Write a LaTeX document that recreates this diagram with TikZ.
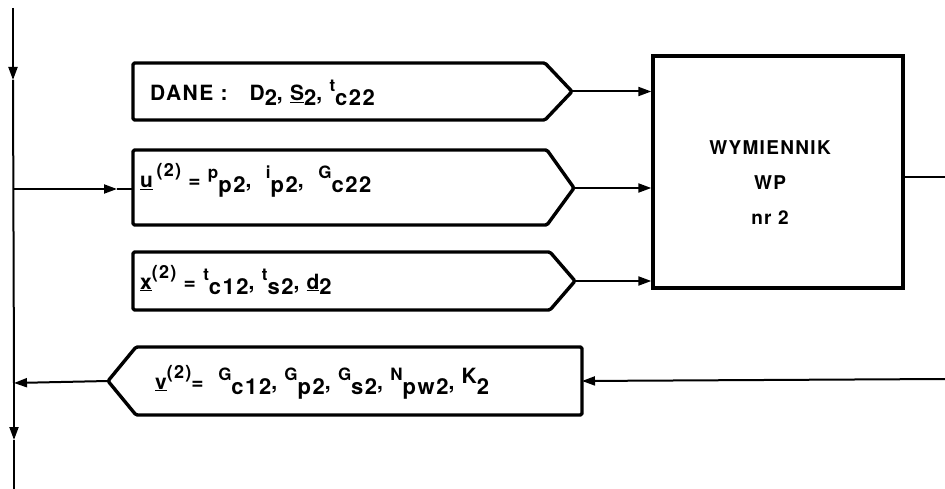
\documentclass[tikz,border=0pt]{standalone}
\usepackage{fontspec}
\setmainfont[LetterSpace=7]{TeX Gyre Heros}
\usetikzlibrary{arrows.meta}
\newcommand{\mySub}[1]{\raisebox{-5pt}{\fontsize{22}{22}\selectfont #1}}
\newcommand{\mySup}[1]{\raisebox{11pt}{\fontsize{18}{18}\selectfont #1}}
\newcommand{\myIx}[2]{\raisebox{9pt}{\fontsize{17}{17}\selectfont #1}\mySub{#2}}
\tikzset{
  box/.style={line width=3.4pt, line join=round, rounded corners=1.5pt},
  conn/.style={line width=2pt},
  tip/.style={-{Triangle[length=13pt,width=9pt]}},
  lbl/.style={anchor=base west, inner sep=0pt, font=\fontsize{21}{24}\selectfont\bfseries},
  blk/.style={draw, line width=3.4pt, minimum width=250pt, minimum height=232pt, inner sep=0pt}
}
\begin{document}
\begin{tikzpicture}[x=1pt,y=-1pt]
\useasboundingbox (0,0) rectangle (945,489);
% left bus
\coordinate (top) at (13,8);
\coordinate (a1) at (13,80);
\coordinate (j1) at (13,189);
\coordinate (j2) at (14,383);
\coordinate (a2) at (14,440);
\coordinate (bot) at (14,489);
\coordinate (m1) at (117,189);
% boxes
\draw[box] (133,63) -- (545,63) -- (572,91.5) -- (545,120) -- (133,120) -- cycle;
\coordinate (dtip) at (572,91.5);
\draw[box] (133,150) -- (547,150) -- (574,188) -- (547,225) -- (133,225) -- cycle;
\coordinate (uin) at (133,189);
\coordinate (utip) at (574,188);
\draw[box] (133,252) -- (550,252) -- (575,281) -- (550,310) -- (133,310) -- cycle;
\coordinate (xtip) at (575,281);
\draw[box] (582,347) -- (136,347) -- (108,381) -- (136,415) -- (582,415) -- cycle;
\coordinate (vtip) at (108,381);
\coordinate (vr) at (582,381);
\coordinate (vin) at (945,379);
% texts
\node[lbl] (tdane) at (150,101) {DANE :\ \ \ D\mySub{2},\ \underline{S}\mySub{2},\ \myIx{t}{c22}};
\node[lbl] (tu) at (140,188) {\underline{u}\,\mySup{(2)} =\ \myIx{p}{p2},\ \ \myIx{i}{p2},\ \ \myIx{G}{c22}};
\node[lbl] (tx) at (140,289) {\underline{x}\mySup{(2)}\ =\ \myIx{t}{c12},\ \myIx{t}{s2},\ \underline{d}\mySub{2}};
\node[lbl] (tv) at (155,389) {\underline{v}\mySup{(2)}=\ \ \myIx{G}{c12},\ \myIx{G}{p2},\ \myIx{G}{s2},\ \myIx{N}{pw2},\ \raisebox{6pt}{K}\mySub{2}};
% exchanger
\node[blk] (wym) at (778,172) {};
\node[align=center, inner sep=0pt, font=\fontsize{19}{35}\selectfont\bfseries] (wtxt) at (770,183) {WYMIENNIK\\WP\\nr 2};
\coordinate (out) at (945,177);
% connectors
\draw[conn,tip] (top) -- (a1);
\draw[conn] (a1) -- (j2);
\draw[conn,tip] (j2) -- (a2);
\draw[conn] (a2) -- (bot);
\draw[conn,tip] (j1) -- (m1);
\draw[conn] (m1) -- (uin);
\draw[conn,tip] (dtip) -- (wym.west |- dtip);
\draw[conn,tip] (utip) -- (wym.west |- utip);
\draw[conn,tip] (xtip) -- (wym.west |- xtip);
\draw[conn] (wym.east |- out) -- (out);
\draw[conn,tip] (vin) -- (vr);
\draw[conn,tip] (vtip) -- (j2);
\end{tikzpicture}
\end{document}
